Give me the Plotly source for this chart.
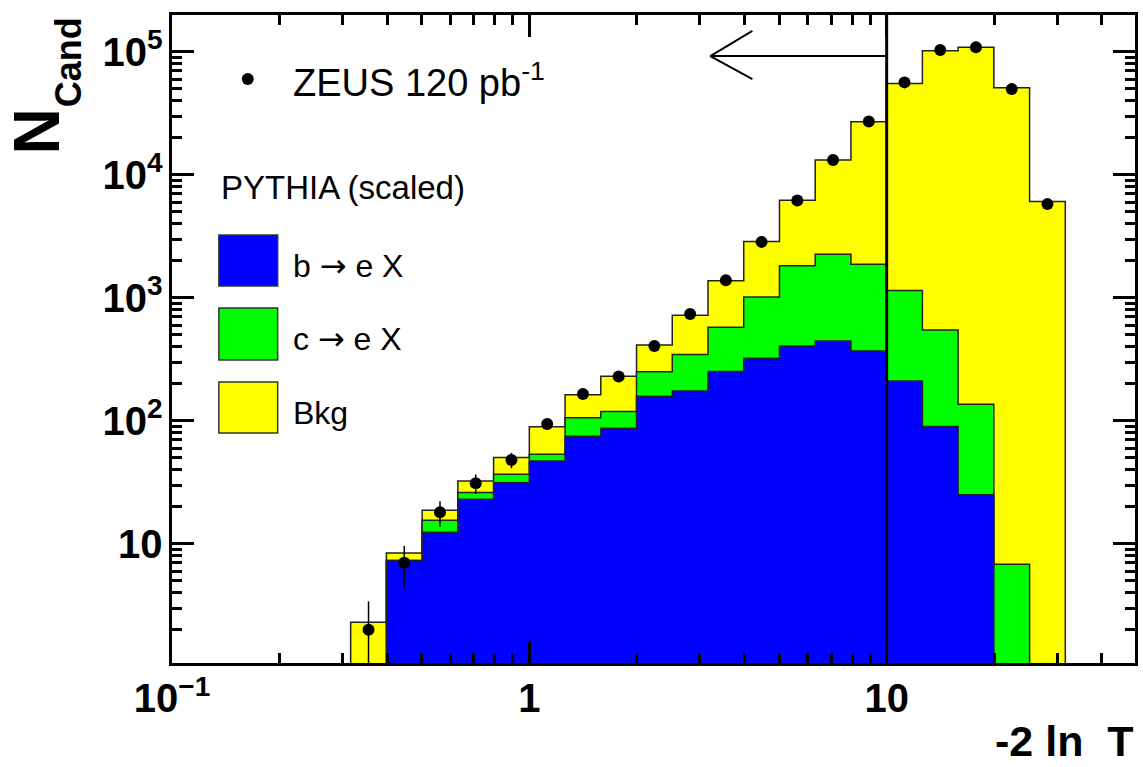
import numpy as np
import plotly.graph_objects as go

# Bins of -2 ln T: 20 equal steps in log10 between 10^-0.5 and 10^1.5
bin_edges = np.logspace(-0.5, 1.5, 21)
bin_centres = np.sqrt(bin_edges[:-1] * bin_edges[1:])

# ZEUS data (candidates per bin) and statistical errors
data_counts = [2, 7, 18, 31, 48, 94, 165, 229, 406, 740, 1390, 2850,
               6190, 13180, 27100, 56500, 103500, 109000, 49800, 5780]
data_errors = [1.4, 2.6, 4.2, 5.6, 6.9, 9.7, 12.8, 15.1, 20.1, 27.2, 37.3, 53.4,
               78.7, 114.8, 164.6, 237.7, 321.7, 330.2, 223.2, 76.0]

# PYTHIA (scaled) components
mc_b = [0, 7.3, 12.4, 23.0, 31.4, 47.1, 75, 87, 158, 175, 251, 323,
        406, 446, 369, 211, 90, 25, 0, 0]
mc_c = [0, 0, 3.1, 3.1, 5.3, 6.3, 31, 32, 92, 171, 326, 693,
        1414, 1819, 1508, 935, 458, 111, 6.8, 0]
mc_bkg = [2.3, 1.1, 3.2, 6.3, 13.5, 36, 57, 111, 164, 375, 797, 1855,
          4400, 10970, 25120, 54250, 101450, 108860, 50990, 6080]

# selection cut on -2 ln T and the arrow pointing to the accepted side
CUT = 10.0
ARROW_TIP = 3.21
ARROW_Y = 9.25e4
ARROW_HEAD_X = 4.21
ARROW_HEAD_Y = (1.48e5, 6.0e4)

FLOOR = 1e-3
FONT = "Liberation Sans"
ARROW_GLYPH = "<span style='font-family:DejaVu Sans'>\u2192</span>"

W, H = 1143, 767
ML, MR, MT, MB = 172, 5, 15, 104
PW, PH = W - ML - MR, H - MT - MB


def px(xp):
    return (xp - ML) / PW


def py(yp):
    return (H - MB - yp) / PH


def step_outline(values):
    v = np.asarray(values, dtype=float)
    v = np.where(v > 0, v, FLOOR)
    xs, ys = [bin_edges[0]], [FLOOR]
    for i, val in enumerate(v):
        xs += [bin_edges[i], bin_edges[i + 1]]
        ys += [val, val]
    xs.append(bin_edges[-1])
    ys.append(FLOOR)
    return xs, ys


b = np.array(mc_b, dtype=float)
bc = b + np.array(mc_c, dtype=float)
total = bc + np.array(mc_bkg, dtype=float)

fig = go.Figure()

for vals, colour in [(total, "#ffff00"), (bc, "#00ff00"), (b, "#0000ff")]:
    xs, ys = step_outline(vals)
    fig.add_trace(go.Scatter(
        x=xs, y=ys, mode="lines", fill="toself", fillcolor=colour,
        line=dict(color="#222222", width=1.5), hoverinfo="skip"))

# cut line and arrow
fig.add_trace(go.Scatter(x=[CUT, CUT], y=[FLOOR, 1e7], mode="lines",
                         line=dict(color="black", width=3), hoverinfo="skip"))
fig.add_trace(go.Scatter(x=[CUT, ARROW_TIP], y=[ARROW_Y, ARROW_Y], mode="lines",
                         line=dict(color="black", width=2), hoverinfo="skip"))
fig.add_trace(go.Scatter(x=[ARROW_HEAD_X, ARROW_TIP, ARROW_HEAD_X],
                         y=[ARROW_HEAD_Y[0], ARROW_Y, ARROW_HEAD_Y[1]], mode="lines",
                         line=dict(color="black", width=2), hoverinfo="skip"))

# data points
fig.add_trace(go.Scatter(
    x=bin_centres, y=data_counts, mode="markers",
    marker=dict(color="black", size=12),
    error_y=dict(type="data", array=data_errors, arrayminus=data_errors,
                 color="black", thickness=1.5, width=0),
    hoverinfo="skip"))

axis_common = dict(
    type="log", showline=True, linecolor="black", linewidth=3, mirror="allticks",
    ticks="inside", ticklen=22, tickwidth=3, tickcolor="black", dtick=1,
    exponentformat="power", showgrid=False, zeroline=False,
    tickfont=dict(family=FONT, size=32, color="black", weight="bold"),
    minor=dict(ticks="inside", ticklen=10, tickwidth=3, tickcolor="black", showgrid=False),
)

fig.update_layout(
    width=W, height=H,
    margin=dict(l=ML, r=MR, t=MT, b=MB),
    paper_bgcolor="white", plot_bgcolor="white",
    showlegend=False, hovermode=False,
    xaxis=dict(range=[-1, 1.695], **axis_common),
    yaxis=dict(range=[0.03, 5.3], **axis_common),
)

shapes = []
annotations = []

# legend: data marker
shapes.append(dict(type="circle", xref="paper", yref="paper",
                   x0=px(242), x1=px(254), y0=py(85), y1=py(73),
                   fillcolor="black", line=dict(color="black", width=0)))
annotations.append(dict(text="ZEUS 120 pb<sup>-1</sup>", xref="paper", yref="paper",
                        x=px(291), y=py(80), xanchor="left", yanchor="middle",
                        showarrow=False, font=dict(family=FONT, size=38, color="black")))
annotations.append(dict(text="PYTHIA (scaled)", xref="paper", yref="paper",
                        x=px(219), y=py(188), xanchor="left", yanchor="middle",
                        showarrow=False, font=dict(family=FONT, size=33, color="black")))

legend_rows = [
    ("#0000ff", "b " + ARROW_GLYPH + " e X", 235, 286),
    ("#00ff00", "c " + ARROW_GLYPH + " e X", 308, 360),
    ("#ffff00", "Bkg", 382, 433),
]
for colour, label, top, bottom in legend_rows:
    shapes.append(dict(type="rect", xref="paper", yref="paper",
                       x0=px(219), x1=px(278), y0=py(bottom), y1=py(top),
                       fillcolor=colour, line=dict(color="#333333", width=1.5)))
    annotations.append(dict(text=label, xref="paper", yref="paper",
                            x=px(291), y=py((top + bottom) / 2 + 5), xanchor="left",
                            yanchor="middle", showarrow=False,
                            font=dict(family=FONT, size=32, color="black")))

# axis titles
annotations.append(dict(text="N", xref="paper", yref="paper", x=px(37), y=py(131),
                        xanchor="center", yanchor="middle", textangle=-90, showarrow=False,
                        font=dict(family=FONT, size=64, color="black", weight="bold")))
annotations.append(dict(text="Cand", xref="paper", yref="paper", x=px(69), y=py(62),
                        xanchor="center", yanchor="middle", textangle=-90, showarrow=False,
                        font=dict(family=FONT, size=36, color="black", weight="bold")))
annotations.append(dict(text="-2 ln\u00a0\u00a0T", xref="paper", yref="paper",
                        x=px(1138), y=py(766), xanchor="right", yanchor="bottom",
                        showarrow=False, borderpad=0,
                        font=dict(family=FONT, size=43, color="black", weight="bold")))

fig.update_layout(shapes=shapes, annotations=annotations)

fig.write_html("out.html")
